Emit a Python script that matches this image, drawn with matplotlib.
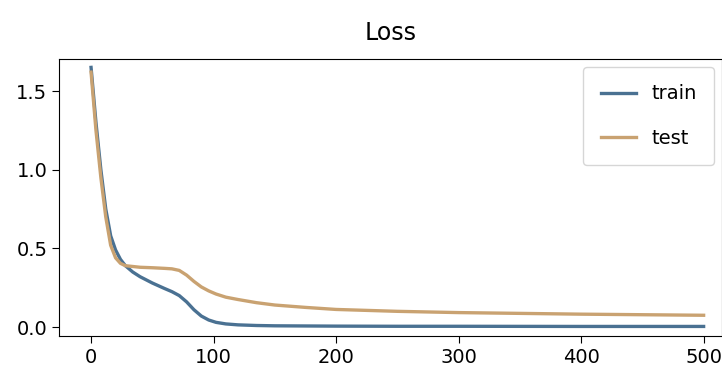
import matplotlib
matplotlib.use("Agg")
import matplotlib.pyplot as plt

# values
epochs = [0, 4, 8, 12, 16, 20, 24, 28, 34, 40, 50, 60, 66, 72, 78, 84, 90, 96, 102, 110,
          120, 135, 150, 175, 200, 250, 300, 400, 500]
train_loss = [1.65, 1.3, 1.0, 0.75, 0.58, 0.49, 0.43, 0.39, 0.35, 0.32, 0.28, 0.245, 0.225, 0.2,
              0.16, 0.11, 0.07, 0.045, 0.03, 0.02, 0.014, 0.01, 0.008, 0.007, 0.006, 0.005,
              0.005, 0.004, 0.004]
test_loss = [1.62, 1.25, 0.95, 0.7, 0.52, 0.44, 0.405, 0.39, 0.385, 0.38, 0.377, 0.373, 0.37,
             0.36, 0.33, 0.29, 0.255, 0.23, 0.21, 0.19, 0.175, 0.155, 0.14, 0.125, 0.112,
             0.1, 0.092, 0.082, 0.075]

fig = plt.figure(figsize=(7.22, 3.81), dpi=100)
ax = fig.add_axes([0.082, 0.118, 0.918, 0.727])

ax.plot(epochs, train_loss, color='#4a7192', lw=2.4, label='train')
ax.plot(epochs, test_loss, color='#c9a271', lw=2.4, label='test')

ax.set_xlim(-26, 515)
ax.set_ylim(-0.057, 1.703)
ax.set_xticks([0, 100, 200, 300, 400, 500])
ax.set_yticks([0.0, 0.5, 1.0, 1.5])
ax.tick_params(labelsize=14, length=5)
ax.set_title("Loss", fontsize=17, pad=14)
ax.legend(loc='upper right', fontsize=14, labelspacing=1.3, borderpad=0.9,
          handlelength=1.8, borderaxespad=0.4)

fig.savefig("out.png")
